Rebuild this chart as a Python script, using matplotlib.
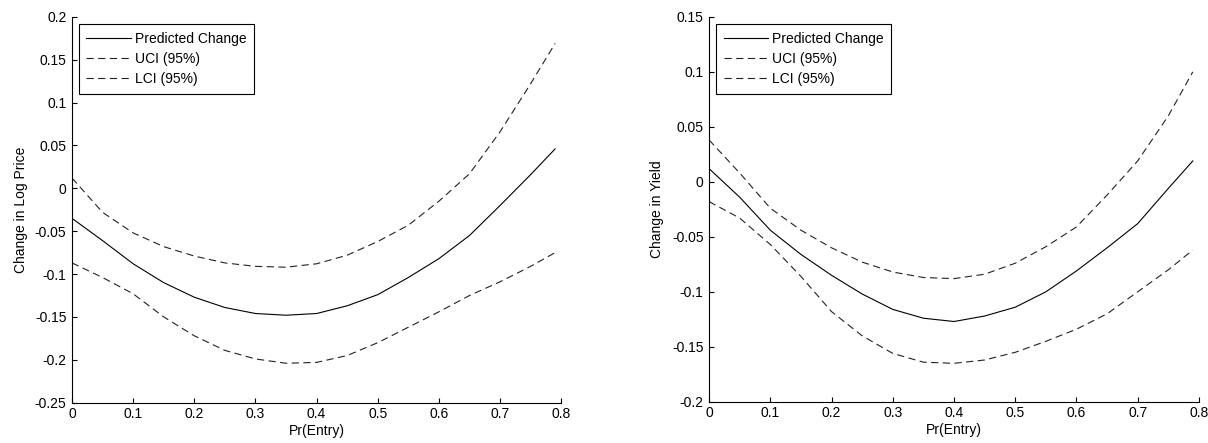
import matplotlib
matplotlib.use("Agg")
import matplotlib.pyplot as plt
from matplotlib.ticker import FuncFormatter

plt.rcParams['font.family'] = ['Liberation Sans', 'DejaVu Sans']
plt.rcParams['axes.unicode_minus'] = False

# Pr(Entry) grid
entry = [0.0, 0.05, 0.1, 0.15, 0.2, 0.25, 0.3, 0.35, 0.4, 0.45,
         0.5, 0.55, 0.6, 0.65, 0.7, 0.75, 0.79]

# left panel: change in log price
price_pred = [-0.035, -0.061, -0.088, -0.110, -0.127, -0.139, -0.146, -0.148, -0.146,
              -0.137, -0.124, -0.104, -0.082, -0.055, -0.020, 0.016, 0.046]
price_uci = [0.012, -0.028, -0.052, -0.068, -0.079, -0.087, -0.091, -0.092, -0.088,
             -0.078, -0.062, -0.043, -0.015, 0.017, 0.066, 0.122, 0.169]
price_lci = [-0.087, -0.104, -0.123, -0.150, -0.172, -0.189, -0.199, -0.204, -0.203,
             -0.195, -0.180, -0.162, -0.144, -0.125, -0.109, -0.091, -0.075]

# right panel: change in yield
yield_pred = [0.012, -0.014, -0.044, -0.066, -0.085, -0.102, -0.116, -0.124, -0.127,
              -0.122, -0.114, -0.100, -0.081, -0.060, -0.038, -0.006, 0.019]
yield_uci = [0.038, 0.008, -0.024, -0.044, -0.060, -0.073, -0.082, -0.087, -0.088,
             -0.084, -0.074, -0.059, -0.041, -0.012, 0.019, 0.060, 0.100]
yield_lci = [-0.018, -0.033, -0.057, -0.086, -0.118, -0.140, -0.156, -0.164, -0.165,
             -0.162, -0.155, -0.145, -0.134, -0.120, -0.100, -0.080, -0.062]

labels = ['Predicted Change', 'UCI (95%)', 'LCI (95%)']
x_ticks = [0, 0.1, 0.2, 0.3, 0.4, 0.5, 0.6, 0.7, 0.8]
price_yticks = [-0.25, -0.2, -0.15, -0.1, -0.05, 0, 0.05, 0.1, 0.15, 0.2]
yield_yticks = [-0.2, -0.15, -0.1, -0.05, 0, 0.05, 0.1, 0.15]

fmt = FuncFormatter(lambda v, pos: '%g' % round(v, 4))


def panel(ax, pred, uci, lci, yticks, ylabel, ypad):
    ax.plot(entry, pred, color='black', lw=0.8, label=labels[0])
    ax.plot(entry, uci, color='#222222', lw=0.8, dashes=(6.5, 4), label=labels[1])
    ax.plot(entry, lci, color='#222222', lw=0.8, dashes=(6.5, 4), label=labels[2])
    ax.set_xlim(0, 0.8)
    ax.set_ylim(yticks[0], yticks[-1])
    ax.set_xticks(x_ticks)
    ax.set_yticks(yticks)
    ax.xaxis.set_major_formatter(fmt)
    ax.yaxis.set_major_formatter(fmt)
    ax.spines['top'].set_visible(False)
    ax.spines['right'].set_visible(False)
    ax.tick_params(direction='in', length=3.5, width=0.8, labelsize=10)
    ax.tick_params(axis='y', pad=4)
    ax.tick_params(axis='x', pad=3)
    ax.set_xlabel('Pr(Entry)', fontsize=10, labelpad=2)
    ax.set_ylabel(ylabel, fontsize=10, labelpad=ypad)
    leg = ax.legend(loc='upper left', bbox_to_anchor=(0.014, 0.981), borderaxespad=0,
                    fancybox=False, edgecolor='black', framealpha=1, fontsize=10,
                    handlelength=3.2, handletextpad=0.3, labelspacing=0.45,
                    borderpad=0.55)
    leg.get_frame().set_linewidth(0.8)


fig = plt.figure(figsize=(12.08, 4.43), dpi=100)
ax1 = fig.add_axes([0.0596, 0.091, 0.405, 0.871])
ax2 = fig.add_axes([0.587, 0.093, 0.4055, 0.869])
panel(ax1, price_pred, price_uci, price_lci, price_yticks, 'Change in Log Price', 5)
panel(ax2, yield_pred, yield_uci, yield_lci, yield_yticks, 'Change in Yield', 6)

fig.savefig('out.png', dpi=100)
